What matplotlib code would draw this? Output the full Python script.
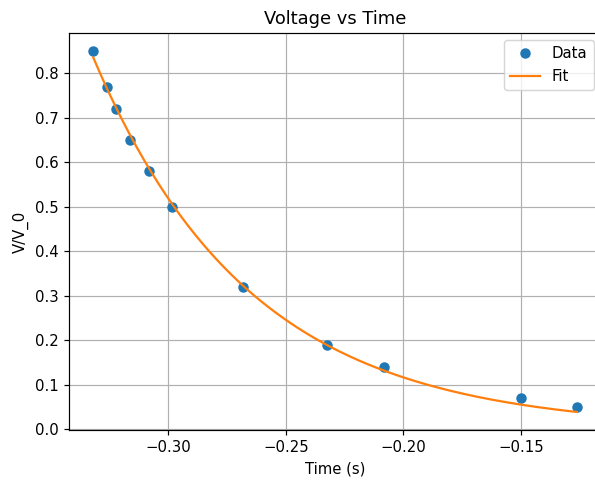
import numpy as np
import matplotlib.pyplot as plt

time_s = [-0.332, -0.326, -0.3223, -0.3164, -0.3083, -0.2985,
          -0.2683, -0.2326, -0.2083, -0.150, -0.1262]
v_ratio = [0.85, 0.77, 0.72, 0.65, 0.58, 0.50,
           0.32, 0.19, 0.14, 0.07, 0.05]

t = np.array(time_s)
v = np.array(v_ratio)

# exponential fit y = A*exp(b*t): start from log fit, refine with Gauss-Newton
b, log_a = np.polyfit(t, np.log(v), 1, w=v)
a = np.exp(log_a)
for _ in range(50):
    f = a * np.exp(b * t)
    J = np.column_stack([np.exp(b * t), a * t * np.exp(b * t)])
    step, *_ = np.linalg.lstsq(J, v - f, rcond=None)
    a += step[0]
    b += step[1]

t_fit = np.linspace(t.min(), t.max(), 200)
v_fit = a * np.exp(b * t_fit)

dpi = 107.4
fig = plt.figure(figsize=(595 / dpi, 481 / dpi), dpi=dpi)
ax = fig.add_axes([69 / 595, 51 / 481, 532 / 595, 397 / 481])

ax.plot(t, v, 'o', label='Data')
ax.plot(t_fit, v_fit, label='Fit')
ax.set_xlabel('Time (s)')
ax.set_ylabel('V/V_0')
ax.set_title('Voltage vs Time')
ax.legend()
ax.grid(True)

fig.savefig('out.png', dpi=dpi)
